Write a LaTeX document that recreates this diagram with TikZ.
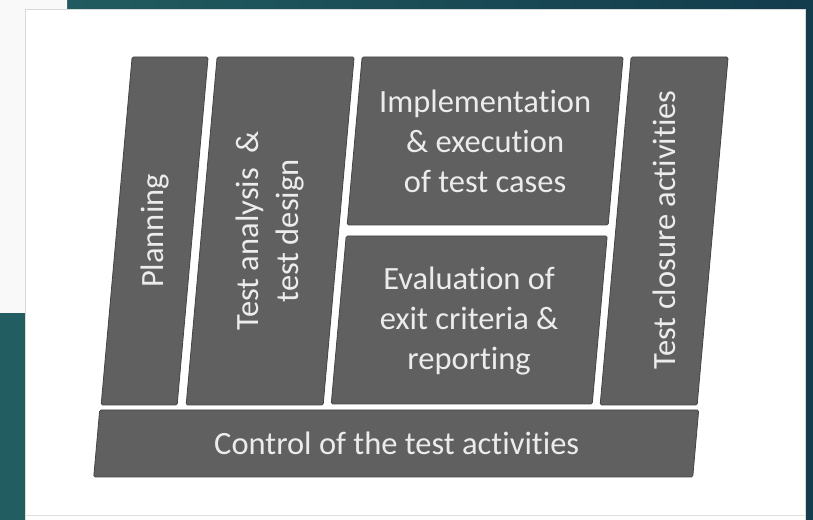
\documentclass[tikz,border=0pt]{standalone}
\usepackage{fontspec}
\setmainfont{Carlito}[Ligatures=NoCommon]
\usetikzlibrary{positioning}
\definecolor{tealL}{RGB}{34,94,97}
\definecolor{tealR}{RGB}{19,60,76}
\definecolor{boxgrey}{RGB}{96,96,96}
\definecolor{boxedge}{RGB}{68,68,68}
\definecolor{txtgrey}{RGB}{236,236,236}
\tikzset{
  stage/.style={fill=boxgrey,draw=boxedge,line width=0.8pt,rounded corners=1.5pt},
  lbl/.style={text=txtgrey,align=center,inner sep=0pt,font=\fontsize{32.5}{40}\selectfont}
}

\begin{document}
\begin{tikzpicture}[x=1pt,y=1pt]
       \useasboundingbox (0,0) rectangle (813,519);
       % backdrop and card
       \shade[left color=tealL,right color=tealR] (0,0) rectangle (813,519);
       \fill[white!95!gray] (0,519) -- (67,519) -- (67,510) -- (25,510) -- (25,206) -- (0,206) -- cycle;
       \fill[white,draw=gray!30] (25,-2) rectangle (805,510);
       \draw[gray!25] (25,4) -- (805,4);
       % slanted blocks
       \begin{scope}[xslant=0.089]
       \draw[stage] (91,114) rectangle (167,462);
       \draw[stage] (176,114) rectangle (313,462);
       \draw[stage] (321,294) rectangle (582,462);
       \draw[stage] (321,115) rectangle (582,283);
       \draw[stage] (590,114) rectangle (687,462);
       \draw[stage] (90,42) rectangle (689,109);
       \node[lbl,rotate=90] (plan) at (129,288) {Planning};
       \node[lbl,rotate=90] (design) at (244.5,288) {Test analysis~~\&\\test design};
       \node[lbl] (impl) at (451.5,378) {Implementation\\\& execution\\of test cases};
       \node[lbl] (eval) at (451.5,198) {Evaluation of\\exit criteria \&\\reporting};
       \node[lbl,rotate=90] (close) at (638.5,289) {Test closure activities};
       \node[lbl] (ctrl) at (390,75.5) {Control of the test activities};
       \end{scope}
\end{tikzpicture}
\end{document}
